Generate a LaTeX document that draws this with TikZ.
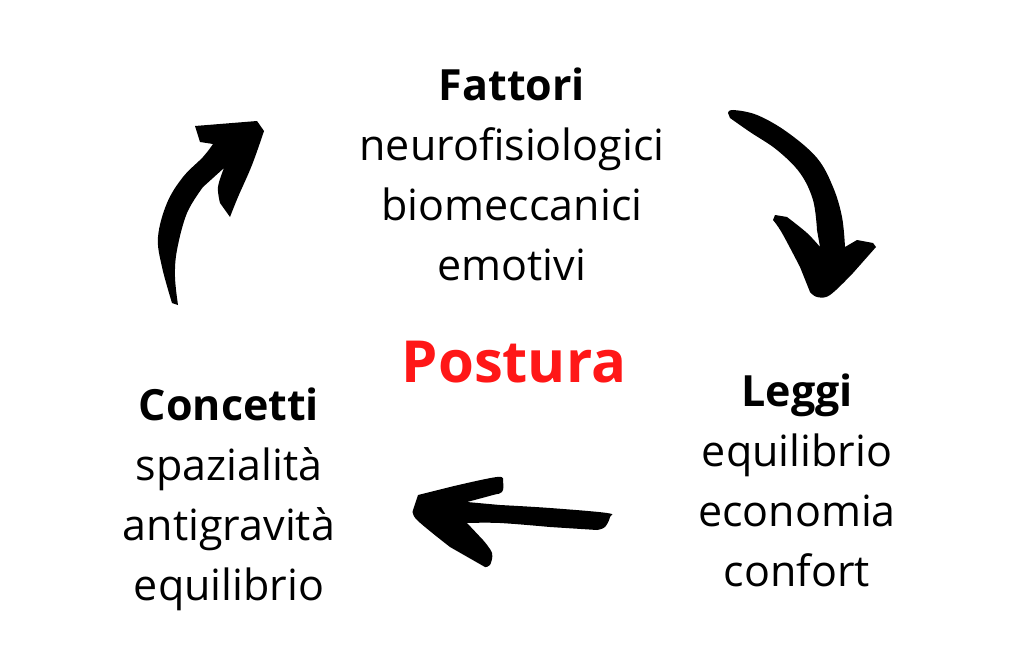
\documentclass[tikz,border=0pt]{standalone}
\usepackage{fontspec}
\setmainfont{Open Sans}
\usepackage{tikz}
\usetikzlibrary{positioning}
\definecolor{posturared}{HTML}{FF1717}

\begin{document}
\begin{tikzpicture}[
  x=1pt, y=-1pt,
  group/.style={align=center, inner sep=0pt, anchor=base, font=\fontsize{43}{60}\selectfont},
  title/.style={inner sep=0pt, anchor=base, font=\fontsize{58}{70}\selectfont\bfseries, text=posturared},
  brush/.style={fill=black}
]
\useasboundingbox (0,0) rectangle (1024,650);

% base of a group = baseline of its last line
\node[group] (fattori) at (512,280) {\textbf{Fattori}\\neurofisiologici\\biomeccanici\\emotivi};
\node[title] (postura) at (514,382) {Postura};
\node[group] (leggi) at (797,586) {\textbf{Leggi}\\equilibrio\\economia\\confort};
\node[group] (concetti) at (229,600) {\textbf{Concetti}\\spazialità\\antigravità\\equilibrio};

% up-left arrow
\fill[brush] (178,305) -- plot[smooth, tension=0.6] coordinates {(172,303) (162,267) (158,237) (167,203) (183,177) (203,157) (213,144)}
  -- (200,142) -- (195,126) -- (257,121)
  -- plot[smooth, tension=0.6] coordinates {(264,131) (252,165) (238,197) (230,217)}
  -- plot[smooth, tension=0.6] coordinates {(220,203) (218,187) (224,168)}
  -- plot[smooth, tension=0.6] coordinates {(203,187) (187,213) (177,250) (175,277) (178,305)} -- cycle;

% down-right arrow
\fill[brush] (730,118) -- plot[smooth, tension=0.6] coordinates {(728,113) (733,110) (757,115) (787,132) (817,158) (833,187) (842,217) (845,247)}
  -- (857,240) -- (873,243) -- (876,247)
  -- plot[smooth, tension=0.6] coordinates {(853,273) (830,295) (817,297) (810,292)}
  -- plot[smooth, tension=0.6] coordinates {(800,267) (782,233) (773,220)}
  -- (775,215) -- plot[smooth, tension=0.6] coordinates {(787,217) (807,233) (820,247)}
  -- plot[smooth, tension=0.6] coordinates {(817,230) (813,200) (800,173) (777,150) (750,132) (730,118)} -- cycle;

% left arrow
\fill[brush] (413,510) -- (418,495)
  -- plot[smooth, tension=0.6] coordinates {(450,487) (497,477) (503,482) (502,492) (493,495) (467,502)}
  -- plot[smooth, tension=0.6] coordinates {(500,505) (550,508) (607,513) (610,517) (605,527) (597,530)}
  -- plot[smooth, tension=0.6] coordinates {(550,527) (500,523) (467,523)}
  -- plot[smooth, tension=0.6] coordinates {(483,540) (492,553) (490,565) (485,567)}
  -- plot[smooth, tension=0.6] coordinates {(450,547) (417,520) (413,510)} -- cycle;
\end{tikzpicture}
\end{document}
